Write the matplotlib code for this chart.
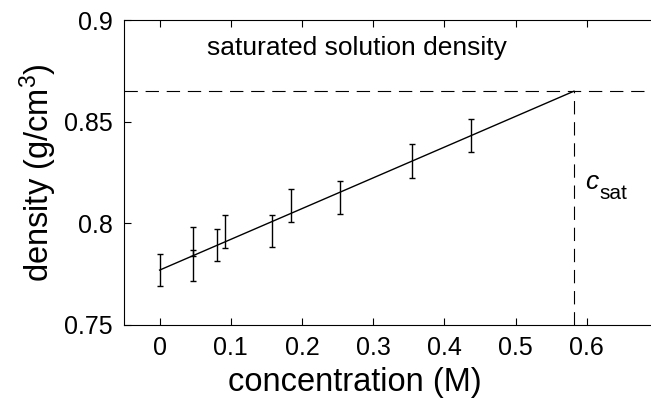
import matplotlib
matplotlib.use("Agg")
import matplotlib.pyplot as plt

plt.rcParams['font.family'] = ['Liberation Sans', 'DejaVu Sans']
plt.rcParams['mathtext.fontset'] = 'custom'
plt.rcParams['mathtext.rm'] = 'Liberation Sans'
plt.rcParams['mathtext.it'] = 'Liberation Sans:italic'

conc = [0.0, 0.047, 0.047, 0.081, 0.092, 0.1575, 0.184, 0.253, 0.355, 0.437]
dens = [0.777, 0.7848, 0.7855, 0.7895, 0.796, 0.7963, 0.809, 0.8126, 0.8306, 0.8432]
err = [0.0078, 0.0132, 0.0015, 0.0079, 0.0080, 0.0078, 0.0081, 0.0082, 0.0083, 0.0083]

fit_x = [0.0, 0.582]
fit_y = [0.777, 0.865]
c_sat = 0.582
rho_sat = 0.865

xticks = [0, 0.1, 0.2, 0.3, 0.4, 0.5, 0.6]
xticklabels = ['0', '0.1', '0.2', '0.3', '0.4', '0.5', '0.6']
yticks = [0.75, 0.8, 0.85, 0.9]
yticklabels = ['0.75', '0.8', '0.85', '0.9']

W, H = 651, 398
fig = plt.figure(figsize=(W/100, H/100), dpi=100)
x0, x1 = 124, 658
y0, y1 = 325, 20
ax = fig.add_axes([x0/W, 1 - y0/H, (x1-x0)/W, (y0-y1)/H])
ax.set_xlim(-0.05, 0.7)
ax.set_ylim(0.75, 0.9)

ax.plot(fit_x, fit_y, color='black', lw=1.0)
ax.errorbar(conc, dens, yerr=err, fmt='none', ecolor='black', elinewidth=1.0,
            capsize=2.5, capthick=1.0)
dash = (0, (12, 7))
ax.axhline(rho_sat, color='black', lw=0.8, linestyle=dash)
ax.plot([c_sat, c_sat], [0.75, rho_sat], color='black', lw=0.8, linestyle=dash)

ax.text(0.277, 0.886, 'saturated solution density', fontsize=19,
        ha='center', va='center')
ax.text(0.597, 0.8204, 'c', fontsize=19, style='italic', ha='left', va='center')
ax.text(0.618, 0.8145, 'sat', fontsize=15, ha='left', va='center')

ax.set_xticks(xticks)
ax.set_xticklabels(xticklabels)
ax.set_yticks(yticks)
ax.set_yticklabels(yticklabels)
ax.tick_params(direction='in', length=5, width=0.8, labelsize=18, top=True,
               right=True, pad=8)
for s in ax.spines.values():
    s.set_linewidth(0.8)

ax.set_xlabel('concentration (M)', fontsize=23.5)
ax.xaxis.set_label_coords((355 - x0) / (x1 - x0), -(383 - y0) / (y0 - y1))
ax.xaxis.label.set_va('center')
ax.set_ylabel('density (g/cm$^3$)', fontsize=23.5)
ax.yaxis.set_label_coords((38 - x0) / (x1 - x0), 0.5)
ax.yaxis.label.set_va('center')

fig.savefig('out.png', dpi=100)
